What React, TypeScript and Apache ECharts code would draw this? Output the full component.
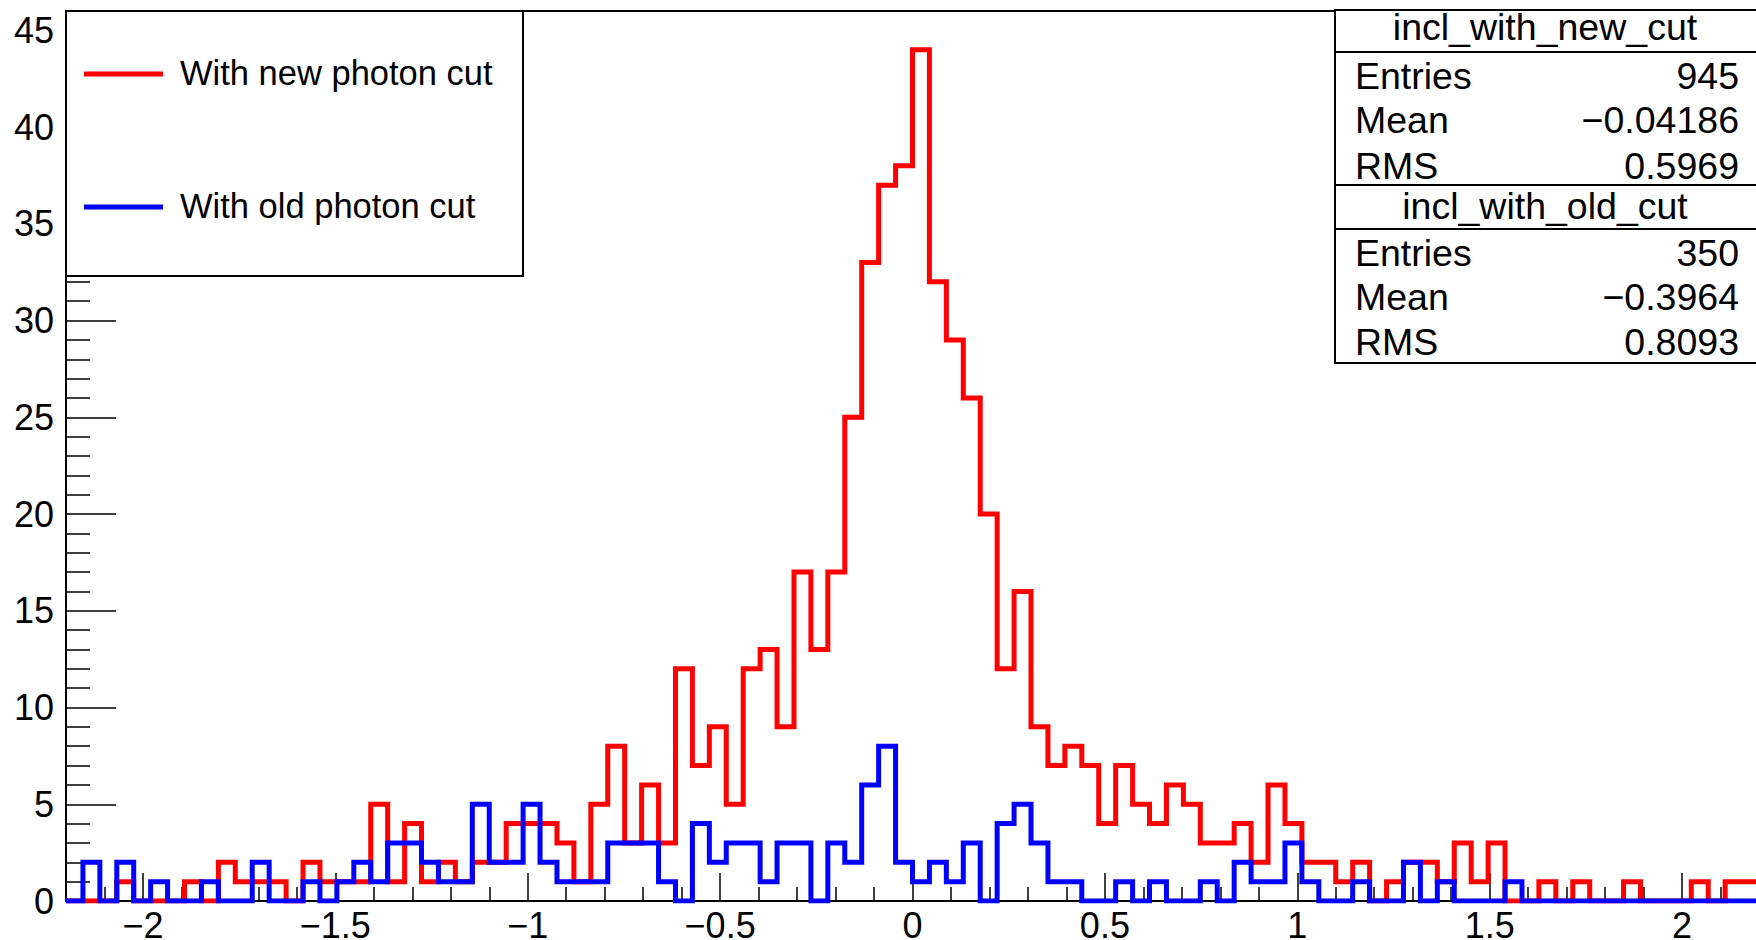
import React, { useEffect, useRef } from "react";
import * as echarts from "echarts";

// Histogram binning: 100 bins over [-2.2, 2.2]
const X_MIN = -2.2;
const X_MAX = 2.2;
const BIN_WIDTH = 0.044;
const Y_MAX = 46;

// Bin contents, inclination with the new photon cut
const newCutCounts = [
  0, 0, 0, 1, 0, 0, 0, 1, 0, 2,
  1, 1, 1, 0, 2, 1, 1, 1, 5, 1,
  4, 1, 2, 1, 2, 2, 4, 4, 4, 3,
  1, 5, 8, 3, 6, 3, 12, 7, 9, 5,
  12, 13, 9, 17, 13, 17, 25, 33, 37, 38,
  44, 32, 29, 26, 20, 12, 16, 9, 7, 8,
  7, 4, 7, 5, 4, 6, 5, 3, 3, 4,
  2, 6, 4, 2, 2, 1, 2, 0, 1, 2,
  2, 1, 3, 1, 3, 0, 0, 1, 0, 1,
  0, 0, 1, 0, 0, 0, 1, 0, 1, 1,
];

// Bin contents, inclination with the old photon cut
const oldCutCounts = [
  0, 2, 0, 2, 0, 1, 0, 0, 1, 0,
  0, 2, 0, 0, 1, 0, 1, 2, 1, 3,
  3, 2, 1, 1, 5, 2, 2, 5, 2, 1,
  1, 1, 3, 3, 3, 1, 0, 4, 2, 3,
  3, 1, 3, 3, 0, 3, 2, 6, 8, 2,
  1, 2, 1, 3, 0, 4, 5, 3, 1, 1,
  0, 0, 1, 0, 1, 0, 0, 1, 0, 2,
  1, 1, 3, 1, 0, 0, 1, 0, 0, 2,
  0, 1, 0, 0, 0, 1, 0, 0, 0, 0,
  0, 0, 0, 0, 0, 0, 0, 0, 0, 0,
];

const xMajorTicks = [-2, -1.5, -1, -0.5, 0, 0.5, 1, 1.5, 2];
const yMajorTicks = [0, 5, 10, 15, 20, 25, 30, 35, 40, 45];

const seriesNames = ["With new photon cut", "With old photon cut"];
const seriesColors = ["#ff0000", "#0000ff"];

const statsNewTitle = "incl_with_new_cut";
const statsNewRows = [
  ["Entries", "945"],
  ["Mean", "\u22120.04186"],
  ["RMS", "0.5969"],
];
const statsOldTitle = "incl_with_old_cut";
const statsOldRows = [
  ["Entries", "350"],
  ["Mean", "\u22120.3964"],
  ["RMS", "0.8093"],
];

const FONT = "'Liberation Sans', Arial, Helvetica, sans-serif";

// minor tick positions: every 0.1 on x, every 1 on y
const xMinorTicks: number[] = [];
for (let i = -22; i <= 22; i++) if (i % 5 !== 0) xMinorTicks.push(i / 10);
const yMinorTicks: number[] = [];
for (let i = 1; i < Y_MAX; i++) if (i % 5 !== 0) yMinorTicks.push(i);

function formatTick(v: number): string {
  const r = Math.round(v * 10) / 10;
  return r < 0 ? "\u2212" + String(-r) : String(r);
}

// step outline: one point per lower bin edge, closed at the upper edge
function histPoints(counts: number[]): number[][] {
  const pts = counts.map((c, i) => [X_MIN + i * BIN_WIDTH, c]);
  pts.push([X_MAX, counts[counts.length - 1]]);
  return pts;
}

function text(x: number, y: number, s: string, size: number, align: string, z = 20) {
  return {
    type: "text",
    x,
    y,
    z,
    style: {
      text: s,
      fill: "#000",
      fontSize: size,
      fontFamily: FONT,
      align,
      textAlign: align,
      verticalAlign: "middle",
      textVerticalAlign: "middle",
    },
  };
}

function hline(x1: number, x2: number, y: number, w = 2, color = "#000", z = 20) {
  return {
    type: "line",
    z,
    shape: { x1, y1: y, x2, y2: y },
    style: { stroke: color, lineWidth: w },
  };
}

function buildGraphic() {
  const els: any[] = [];
  // legend box
  els.push({
    type: "rect",
    z: 10,
    shape: { x: 66, y: 11, width: 457, height: 265 },
    style: { fill: "#fff", stroke: "#000", lineWidth: 2 },
  });
  const legendY = [73, 206];
  seriesNames.forEach((name, i) => {
    els.push(hline(84, 163, legendY[i] + 1, 5, seriesColors[i]));
    els.push(text(180, legendY[i], name, 34.5, "left"));
  });

  // statistics box
  const bx = 1335;
  els.push({
    type: "rect",
    z: 10,
    shape: { x: bx, y: 10, width: 440, height: 353 },
    style: { fill: "#fff", stroke: "#000", lineWidth: 2 },
  });
  els.push(hline(bx, 1780, 52));
  els.push(hline(bx, 1780, 185));
  els.push(hline(bx, 1780, 229));
  els.push(text(1545, 27, statsNewTitle, 37.5, "center"));
  els.push(text(1545, 206, statsOldTitle, 37.5, "center"));
  const rowsNewY = [76, 120, 166];
  const rowsOldY = [253, 297, 342];
  statsNewRows.forEach((r, i) => {
    els.push(text(1355, rowsNewY[i], r[0], 37.5, "left"));
    els.push(text(1739, rowsNewY[i], r[1], 37.5, "right"));
  });
  statsOldRows.forEach((r, i) => {
    els.push(text(1355, rowsOldY[i], r[0], 37.5, "left"));
    els.push(text(1739, rowsOldY[i], r[1], 37.5, "right"));
  });
  return els;
}

export default function App() {
  const ref = useRef<HTMLDivElement | null>(null);

  useEffect(() => {
    if (!ref.current) return;
    const chart = echarts.init(ref.current, undefined, { renderer: "svg" });

    const axisColor = "#000";
    const option: any = {
      animation: false,
      backgroundColor: "#fff",
      textStyle: { fontFamily: FONT },
      grid: {
        left: 66,
        top: 11,
        right: -3,
        bottom: 39,
        show: true,
        borderColor: axisColor,
        borderWidth: 2,
        backgroundColor: "transparent",
        outerBoundsMode: "none",
        containLabel: false,
      },
      xAxis: [
        {
          type: "value",
          min: X_MIN,
          max: X_MAX,
          position: "bottom",
          axisLine: { show: true, onZero: false, lineStyle: { color: axisColor, width: 2 } },
          axisTick: {
            show: true,
            inside: true,
            length: 28,
            customValues: xMajorTicks,
            lineStyle: { color: axisColor, width: 1.5 },
          },
          axisLabel: {
            show: true,
            customValues: xMajorTicks,
            formatter: formatTick,
            fontSize: 36,
            lineHeight: 28,
            fontFamily: FONT,
            color: "#000",
            margin: 10,
          },
          splitLine: { show: false },
        },
        {
          type: "value",
          min: X_MIN,
          max: X_MAX,
          position: "bottom",
          axisLine: { show: false, onZero: false },
          axisTick: {
            show: true,
            inside: true,
            length: 14,
            customValues: xMinorTicks,
            lineStyle: { color: axisColor, width: 1.5 },
          },
          axisLabel: { show: false },
          splitLine: { show: false },
        },
      ],
      yAxis: [
        {
          type: "value",
          min: 0,
          max: Y_MAX,
          position: "left",
          axisLine: { show: true, onZero: false, lineStyle: { color: axisColor, width: 2 } },
          axisTick: {
            show: true,
            inside: true,
            length: 50,
            customValues: yMajorTicks,
            lineStyle: { color: axisColor, width: 1.5 },
          },
          axisLabel: {
            show: true,
            customValues: yMajorTicks,
            formatter: formatTick,
            fontSize: 36,
            fontFamily: FONT,
            color: "#000",
            margin: 12,
          },
          splitLine: { show: false },
        },
        {
          type: "value",
          min: 0,
          max: Y_MAX,
          position: "left",
          axisLine: { show: false, onZero: false },
          axisTick: {
            show: true,
            inside: true,
            length: 24,
            customValues: yMinorTicks,
            lineStyle: { color: axisColor, width: 1.5 },
          },
          axisLabel: { show: false },
          splitLine: { show: false },
        },
      ],
      series: [newCutCounts, oldCutCounts].map((counts, i) => ({
        type: "line",
        name: seriesNames[i],
        xAxisIndex: 0,
        yAxisIndex: 0,
        data: histPoints(counts),
        step: "end",
        symbol: "none",
        showSymbol: false,
        lineStyle: { color: seriesColors[i], width: 5, join: "miter" },
        itemStyle: { color: seriesColors[i] },
        z: 2 + i,
      })),
      graphic: buildGraphic(),
    };

    chart.setOption(option);
    return () => chart.dispose();
  }, []);

  return (
    <div
      ref={ref}
      style={{ position: "fixed", left: 0, top: 0, width: 1756, height: 940, background: "#fff" }}
    />
  );
}
